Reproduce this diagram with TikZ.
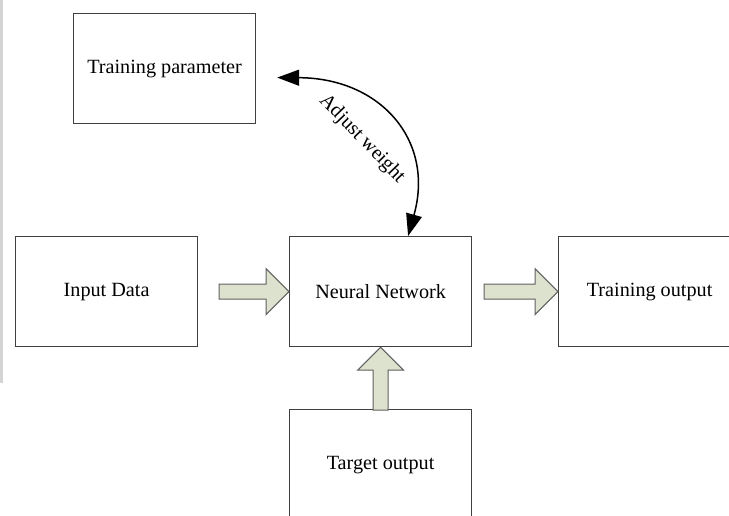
\documentclass[tikz,border=0pt]{standalone}
\usepackage{fontspec}
\setmainfont{Liberation Serif}
\usetikzlibrary{arrows.meta,calc}

\definecolor{boxline}{RGB}{64,64,64}
\definecolor{arrowfill}{RGB}{221,226,206}
\definecolor{arrowline}{RGB}{95,95,95}

% Block arrow: tip at #1, pointing in direction #2 (degrees), total length #3
\newcommand\blockarr[3]{%
  \begin{scope}[shift={(#1)}, rotate=#2]
    \draw[blockarrow] (0,0) -- (-23,23) -- (-23,7.5) -- (-#3,7.5)
      -- (-#3,-7.5) -- (-23,-7.5) -- (-23,-23) -- cycle;
  \end{scope}}

\begin{document}
\begin{tikzpicture}[x=1pt, y=-1pt,
  stage/.style={draw=boxline, line width=1.2pt, fill=white,
    minimum width=182pt, minimum height=110pt, inner sep=0pt,
    font=\fontsize{20.2}{24}\selectfont, anchor=north west},
  blockarrow/.style={draw=arrowline, fill=arrowfill, line width=1pt, line join=miter},
  feedback/.style={line width=1.5pt,
    {Triangle[length=22pt,width=16pt]}-{Triangle[length=22pt,width=16pt]}}]

  \useasboundingbox (0,0) rectangle (729,515);
  \begin{scope}
    \clip (0,0) rectangle (729,515);

    % thin grey strip along the left edge
    \fill[black!17] (0,0) rectangle (3,383);

    % stages
    \node[stage] (tp)   at (73,13)   {Training parameter};
    \node[stage] (inp)  at (15,236)  {Input Data};
    \node[stage] (nn)   at (289,236) {Neural Network};
    \node[stage] (tout) at (558,236) {Training output};
    \node[stage] (tgt)  at (289,409) {Target output};

    % data flow
    \blockarr{inp.east -| nn.west}{0}{70}
    \blockarr{nn.east -| tout.west}{0}{74}
    \blockarr{nn.south}{90}{63}

    % weight adjustment loop
    \coordinate (pw) at ($(tp.east)+(21,9)$);
    \draw[feedback] ([xshift=27.5pt]nn.north) .. controls (435,140) and (380,78) .. (pw);
    \node[fill=white, inner sep=2.5pt, rotate=-46,
      font=\fontsize{20.2}{24}\selectfont] (aw) at (362,139) {Adjust weight};
  \end{scope}
\end{tikzpicture}
\end{document}
